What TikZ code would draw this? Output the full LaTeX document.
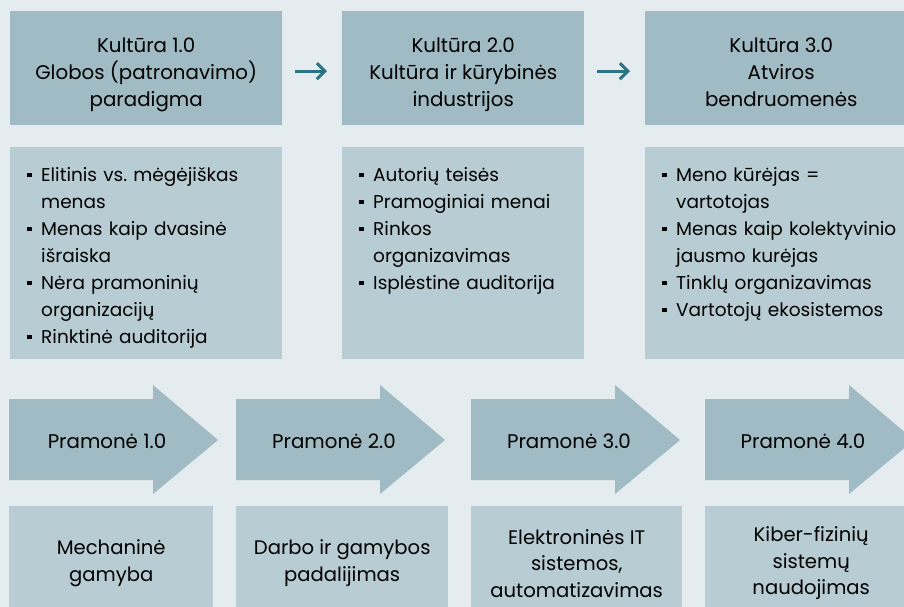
\documentclass[tikz,border=0pt]{standalone}
\usepackage{fontspec}
\setmainfont{Poppins}
\usetikzlibrary{arrows.meta}

\definecolor{backdrop}{HTML}{E4ECEF}
\definecolor{headfill}{HTML}{A0BBC3}
\definecolor{bodyfill}{HTML}{B7CCD3}
\definecolor{linkteal}{HTML}{2B7282}

\newcommand{\bul}{\makebox[14pt][l]{\rule[4pt]{4.5pt}{4.5pt}}}
\newcommand{\cont}{\hspace*{14pt}}

\begin{document}
\frenchspacing
\begin{tikzpicture}[x=1pt, y=-1pt,
                    head/.style={rectangle, fill=headfill, anchor=north west,
                                 minimum height=114pt},
                    title/.style={align=center, inner sep=0pt,
                                  font=\fontsize{19.8pt}{27pt}\selectfont},
                    body/.style={rectangle, fill=bodyfill, anchor=north west,
                                 minimum height=212pt},
                    items/.style={anchor=base west, inner sep=0pt,
                                  text width=250pt, align=left},
                    foot/.style={rectangle, fill=bodyfill, anchor=north west,
                                 minimum height=114pt, align=center,
                                 font=\fontsize{19.6pt}{26.5pt}\selectfont},
                    stage/.style={font=\fontsize{19.8pt}{27pt}\selectfont},
                    link/.style={draw=linkteal, line width=3pt,
                                 -{Straight Barb[length=8pt, width=16pt]},
                                 shorten <=13pt, shorten >=15pt},
                    font=\fontsize{18.5pt}{27pt}\selectfont]
  \useasboundingbox (0, 0) rectangle (904, 607);
  \clip (0, 0) rectangle (904, 607);
  \fill [backdrop] (0, 0) rectangle (904, 607);

  % Culture paradigms.
  \node at (10, 11) [head, minimum width=272pt, name=Kultura1] {};
  \node at (342, 11) [head, minimum width=242pt, name=Kultura2] {};
  \node at (645, 11) [head, minimum width=272pt, name=Kultura3] {};

  \node at ([yshift=-7pt]Kultura1.center) [title, name=Title1]
        {Kultūra 1.0\\Globos (patronavimo)\\paradigma};
  \node at ([yshift=-7pt]Kultura2.center) [title, name=Title2]
        {Kultūra 2.0\\Kultūra ir kūrybinės\\industrijos};
  \node at ([yshift=-7pt]Kultura3.center) [title, name=Title3]
        {Kultūra 3.0\\Atviros\\bendruomenės\vphantom{g}};

  % Transitions between paradigms.
  \draw [link] ([yshift=-3pt]Kultura1.east) to ([yshift=-3pt]Kultura2.west);
  \draw [link] ([yshift=-3pt]Kultura2.east) to ([yshift=-3pt]Kultura3.west);

  % Features of each paradigm.
  \node at (10, 147) [body, minimum width=272pt, name=Traits1] {};
  \node at (342, 147) [body, minimum width=242pt, name=Traits2] {};
  \node at (645, 147) [body, minimum width=272pt, name=Traits3] {};

  \node at ([xshift=17pt, yshift=-34pt]Traits1.north west) [items, name=List1]
        {\bul Elitinis vs. mėgėjiškas\\\cont menas\\
         \bul Menas kaip dvasinė\\\cont išraiska\\
         \bul Nėra pramoninių\\\cont organizacijų\\
         \bul Rinktinė auditorija};
  \node at ([xshift=17pt, yshift=-34pt]Traits2.north west) [items, name=List2]
        {\bul Autorių teisės\\
         \bul Pramoginiai menai\\
         \bul Rinkos\\\cont organizavimas\\
         \bul Isplėstine auditorija};
  \node at ([xshift=17pt, yshift=-34pt]Traits3.north west) [items, name=List3]
        {\bul Meno kūrėjas =\\\cont vartotojas\\
         \bul Menas kaip kolektyvinio\\\cont jausmo kurėjas\\
         \bul Tinklų organizavimas\\
         \bul Vartotojų ekosistemos};

  % Industry stages.
  \fill [headfill] (9, 399) -- (153, 399) -- (153, 385) -- (218, 440)
                   -- (153, 494) -- (153, 480) -- (9, 480) -- cycle;
  \fill [headfill] (236, 399) -- (380, 399) -- (380, 385) -- (445, 440)
                   -- (380, 494) -- (380, 480) -- (236, 480) -- cycle;
  \fill [headfill] (471, 399) -- (615, 399) -- (615, 385) -- (680, 440)
                   -- (615, 494) -- (615, 480) -- (471, 480) -- cycle;
  \fill [headfill] (705, 399) -- (849, 399) -- (849, 385) -- (914, 440)
                   -- (849, 494) -- (849, 480) -- (705, 480) -- cycle;

  \node at (107, 441) [stage, name=Pramone1] {Pramonė 1.0};
  \node at (334, 441) [stage, name=Pramone2] {Pramonė 2.0};
  \node at (569, 441) [stage, name=Pramone3] {Pramonė 3.0};
  \node at (803, 441) [stage, name=Pramone4] {Pramonė 4.0};

  % What each stage brought.
  \node at (9, 506) [foot, minimum width=204pt, name=Stage1]
        {Mechaninė\\gamyba};
  \node at (236, 506) [foot, minimum width=212pt, name=Stage2]
        {Darbo ir gamybos\\padalijimas};
  \node at (471, 506) [foot, minimum width=211pt, name=Stage3]
        {Elektroninės IT\\sistemos,\\automatizavimas};
  \node at (705, 506) [foot, minimum width=212pt, name=Stage4]
        {Kiber-fizinių\\sistemų\\naudojimas};
\end{tikzpicture}
\end{document}
